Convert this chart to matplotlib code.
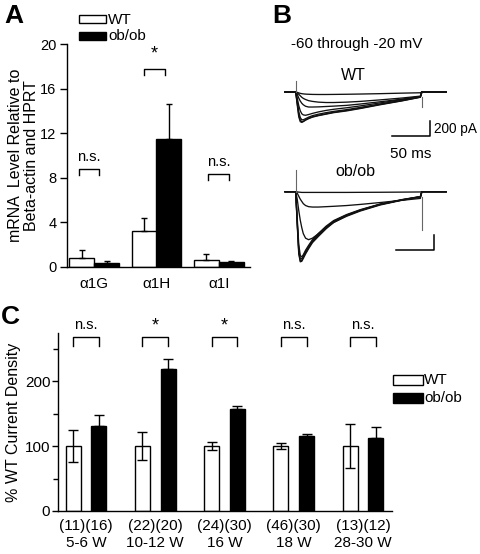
import matplotlib
matplotlib.use("Agg")
import matplotlib.pyplot as plt
from matplotlib.patches import Rectangle
import numpy as np

plt.rcParams['font.family'] = ['Liberation Sans', 'DejaVu Sans']

# ---------------- data ----------------
# Panel A: mRNA level relative to beta-actin and HPRT
a_categories = ['α1G', 'α1H', 'α1I']
a_wt = [0.84, 3.2, 0.66]
a_wt_sem = [0.72, 1.15, 0.48]
a_ob = [0.39, 11.45, 0.48]
a_ob_sem = [0.11, 3.15, 0.06]
a_sig = ['n.s.', '*', 'n.s.']
a_yticks = [0, 4, 8, 12, 16, 20]

# Panel C: % WT current density
c_ages = ['5-6 W', '10-12 W', '16 W', '18 W', '28-30 W']
c_n_wt = [11, 22, 24, 46, 13]
c_n_ob = [16, 20, 30, 30, 12]
c_wt = [100, 100, 100, 100, 100]
c_wt_sem = [24, 21.5, 6, 5, 34]
c_ob = [131, 218.5, 157, 115, 112]
c_ob_sem = [17, 15.5, 5, 4, 18]
c_sig = ['n.s.', '*', '*', 'n.s.', 'n.s.']
c_yticks = [0, 100, 200]
c_minor = [50, 150, 250]

# Panel B: T-type current traces (time in ms, current in pA)
trace_t = [-14, -1, 0, 2, 4, 6, 8, 10, 13, 17, 22, 30, 40, 50, 67, 85, 111, 140, 164]
wt_traces = [
    [0, 0, 0, -5, -12, -18, -22, -25, -28, -30, -32, -33, -33, -32, -30, -27, -22, -15, -10],
    [0, 0, 0, -10, -30, -50, -70, -85, -100, -115, -125, -135, -140, -140, -135, -125, -105, -80, -55],
    [0, 0, 0, -30, -80, -120, -150, -170, -190, -200, -200, -198, -193, -188, -178, -160, -130, -95, -60],
    [0, 0, 0, -80, -180, -250, -290, -305, -310, -300, -285, -265, -245, -230, -210, -185, -145, -100, -60],
    [0, 0, 0, -120, -260, -340, -370, -370, -355, -335, -315, -295, -275, -258, -235, -205, -160, -110, -65],
    [0, 0, 0, -150, -300, -375, -395, -390, -370, -350, -330, -310, -290, -270, -245, -215, -165, -115, -68],
    [0, 0, 0, -170, -330, -395, -405, -395, -375, -355, -335, -315, -295, -275, -252, -220, -170, -118, -70],
]
ob_traces = [
    [0, 0, 0, -3, -6, -8, -10, -10, -10, -10, -10, -10, -10, -10, -10, -9, -8, -6, -4],
    [0, 0, 0, -20, -60, -100, -130, -160, -185, -200, -205, -205, -200, -195, -185, -170, -145, -115, -90],
    [0, 0, 0, -100, -250, -380, -480, -560, -620, -640, -620, -560, -480, -410, -320, -250, -170, -110, -70],
    [0, 0, 0, -350, -700, -850, -870, -840, -780, -715, -640, -555, -460, -385, -305, -240, -165, -105, -65],
    [0, 0, 0, -400, -770, -890, -895, -860, -800, -735, -655, -570, -470, -392, -312, -245, -168, -108, -66],
    [0, 0, 0, -420, -800, -920, -915, -875, -815, -748, -668, -582, -482, -400, -318, -250, -172, -110, -68],
    [0, 0, 0, -440, -830, -935, -928, -890, -830, -760, -680, -595, -495, -410, -328, -258, -178, -114, -72],
]
tail_t = [166, 198]
tail_i = [0, 0]
wt_artifact_on = 150
wt_artifact_off = -200
ob_artifact_on = 290
ob_artifact_off = -510
pulse_end = 166

# ---------------- figure ----------------
W, H = 480, 554
fig = plt.figure(figsize=(W / 100, H / 100), dpi=100)


def box(l, t, r, b):
    return [l / W, 1 - b / H, (r - l) / W, (b - t) / H]


def ftext(x, y, s, **kw):
    fig.text(x / W, 1 - y / H, s, **kw)


FS = 10.5
bar_kw = dict(edgecolor='black', linewidth=1.0)
err_kw = dict(elinewidth=1.0, capthick=1.0, ecolor='black')

# ---------------- Panel A ----------------
axA = fig.add_axes(box(67, 44, 250, 267))
xa = np.arange(len(a_categories))
zeros = [0] * len(a_categories)
axA.bar(xa - 0.2, a_wt, 0.4, color='white', yerr=[zeros, a_wt_sem], capsize=2.5,
        error_kw=err_kw, **bar_kw)
axA.bar(xa + 0.2, a_ob, 0.4, color='black', yerr=[zeros, a_ob_sem], capsize=2.5,
        error_kw=err_kw, **bar_kw)
axA.set_xlim(-0.432, 2.496)
axA.set_ylim(0, 20)
axA.set_yticks(a_yticks)
axA.set_xticks(xa)
axA.set_xticklabels(a_categories, fontsize=11)
axA.tick_params(axis='x', length=0, pad=7)
axA.tick_params(axis='y', length=5, width=1, pad=2.5, labelsize=10.5, direction='out')
for s in ['top', 'right']:
    axA.spines[s].set_visible(False)
for s in ['left', 'bottom']:
    axA.spines[s].set_linewidth(1.0)
axA.set_ylabel('mRNA  Level Relative to\nBeta-actin and HPRT', fontsize=11.5, labelpad=1,
               linespacing=1.1)

a_br_y = [8.75, 17.75, 8.33]
a_br_x = [(-0.245, 0.085), (-0.2, 0.14), (-0.17, 0.165)]
for i, (sig, by, (l, r)) in enumerate(zip(a_sig, a_br_y, a_br_x)):
    axA.plot([i + l, i + l, i + r, i + r], [by - 0.5, by, by, by - 0.5], color='black', lw=1.0,
             clip_on=False)
    if sig == '*':
        axA.text(i + (l + r) / 2, by + 0.55, sig, ha='center', va='bottom', fontsize=13)
    else:
        axA.text(i + (l + r) / 2, by + 0.45, sig, ha='center', va='bottom', fontsize=FS)

# legend A
fig.add_artist(Rectangle((79 / W, 1 - 23 / H), 27 / W, 8 / H, transform=fig.transFigure,
                         facecolor='white', edgecolor='black', lw=1.0))
fig.add_artist(Rectangle((79 / W, 1 - 40 / H), 27 / W, 8 / H, transform=fig.transFigure,
                         facecolor='black', edgecolor='black', lw=1.0))
ftext(108, 19.5, 'WT', fontsize=11, va='center', ha='left')
ftext(108, 36.5, 'ob/ob', fontsize=11, va='center', ha='left')

ftext(4, 4, 'A', fontsize=19, fontweight='bold', va='top', ha='left')
ftext(272, 4, 'B', fontsize=19, fontweight='bold', va='top', ha='left')
ftext(1, 305, 'C', fontsize=19, fontweight='bold', va='top', ha='left')

# ---------------- Panel B ----------------
trace_color = '#111111'


def draw_traces(ax, traces, art_on, art_off):
    for tr in traces:
        ax.plot(list(trace_t) + tail_t, list(tr) + tail_i, color=trace_color, lw=0.95)
    ax.plot([0, 0], [0, art_on], color='#666666', lw=0.8)
    ax.plot([pulse_end, pulse_end], [traces[-1][-1], art_off], color='#666666', lw=0.8)
    ax.set_axis_off()


axB1 = fig.add_axes(box(280.5, 73.25, 447.7, 140.8))
draw_traces(axB1, wt_traces, wt_artifact_on, wt_artifact_off)
axB1.set_xlim(-20, 200)
axB1.set_ylim(-650, 250)
axB1.plot([127, 177, 177], [-587, -587, -387], color='black', lw=1.1)

axB2 = fig.add_axes(box(280.5, 165.4, 447.7, 266.7))
draw_traces(axB2, ob_traces, ob_artifact_on, ob_artifact_off)
axB2.set_xlim(-20, 200)
axB2.set_ylim(-1000, 350)
axB2.plot([132, 182, 182], [-777, -777, -577], color='black', lw=1.1)

ftext(357, 44, '-60 through -20 mV', fontsize=11, ha='center', va='center')
ftext(353, 76, 'WT', fontsize=11.5, ha='center', va='center')
ftext(355, 172, 'ob/ob', fontsize=11.5, ha='center', va='center')
ftext(434, 128.5, '200 pA', fontsize=9.8, ha='left', va='center')
ftext(411, 154, '50 ms', fontsize=11, ha='center', va='center')

# ---------------- Panel C ----------------
axC = fig.add_axes(box(58, 333, 392, 511))
xc = np.arange(len(c_ages))
off = 0.185
bw = 0.217
axC.bar(xc - off, c_wt, bw, color='white', yerr=c_wt_sem, capsize=3.5, error_kw=err_kw, **bar_kw)
axC.bar(xc + off, c_ob, bw, color='black', yerr=[[0] * len(c_ob), c_ob_sem], capsize=3.5,
        error_kw=err_kw, **bar_kw)
axC.set_xlim(-0.404, 4.419)
axC.set_ylim(0, 274)
axC.set_yticks(c_yticks)
axC.set_yticks(c_minor, minor=True)
axC.set_xticks(xc)
axC.set_xticklabels([f'({a})({b})\n{g}' for a, b, g in zip(c_n_wt, c_n_ob, c_ages)],
                    fontsize=11, linespacing=1.25)
axC.tick_params(axis='x', length=0, pad=6)
axC.tick_params(axis='y', which='major', length=4.5, width=1, pad=1, labelsize=11)
axC.tick_params(axis='y', which='minor', length=3.5, width=1)
for s in ['top', 'right']:
    axC.spines[s].set_visible(False)
for s in ['left', 'bottom']:
    axC.spines[s].set_linewidth(1.0)
axC.set_ylabel('% WT Current Density', fontsize=11.5, labelpad=3)

for i, sig in enumerate(c_sig):
    l, r = i - off, i + off
    axC.plot([l, l, r, r], [254, 268, 268, 254], color='black', lw=1.0, clip_on=False)
    if sig == '*':
        axC.text(i, 272, sig, ha='center', va='bottom', fontsize=13, clip_on=False)
    else:
        axC.text(i, 276, sig, ha='center', va='bottom', fontsize=FS, clip_on=False)

# legend C
fig.add_artist(Rectangle((393 / W, 1 - 385 / H), 30 / W, 10 / H, transform=fig.transFigure,
                         facecolor='white', edgecolor='black', lw=1.0))
fig.add_artist(Rectangle((393 / W, 1 - 403 / H), 30 / W, 10 / H, transform=fig.transFigure,
                         facecolor='black', edgecolor='black', lw=1.0))
ftext(424, 380.5, 'WT', fontsize=11, va='center', ha='left')
ftext(424, 398.5, 'ob/ob', fontsize=11, va='center', ha='left')

fig.savefig('out.png', dpi=100)
